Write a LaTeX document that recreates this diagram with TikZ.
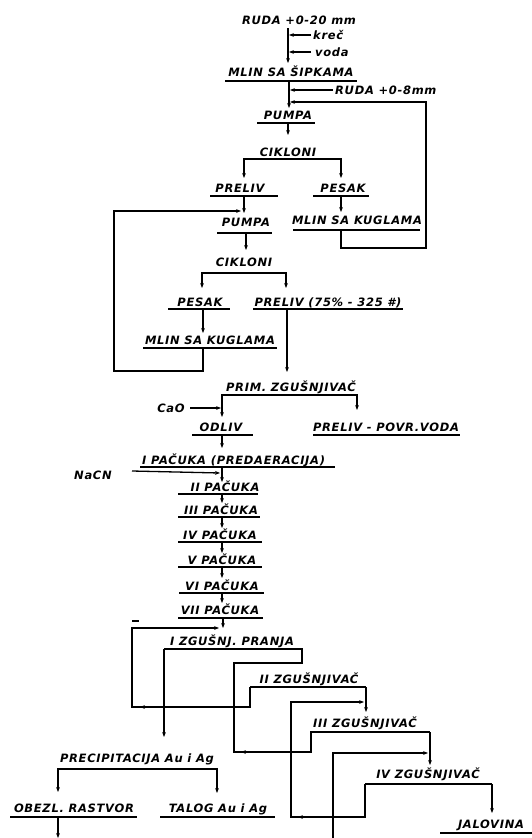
\documentclass[tikz,border=0pt]{standalone}
\usepackage{fontspec}
\setmainfont{DejaVu Sans}
\newfontfamily\labfont[LetterSpace=6]{DejaVu Sans}
\usetikzlibrary{arrows.meta}
\tikzset{
  lab/.style={anchor=base, inner sep=0pt, font=\labfont\bfseries\itshape\fontsize{11.5}{13}\selectfont},
  labw/.style={lab, anchor=base west},
  ln/.style={line width=1.3pt},
  arr/.style={ln, -{Stealth[length=5pt,width=3.8pt]}},
  dbl/.style={ln, {Stealth[length=5pt,width=3.8pt]}-{Stealth[length=5pt,width=3.8pt]}},
  ul/.style={line width=1.1pt},
}
\begin{document}
\begin{tikzpicture}[x=1pt,y=-1pt]
\useasboundingbox (0,0) rectangle (532,838);
% ---------- labels ----------
\node[lab] (ruda) at (299,24) {RUDA +0-20 mm};
\node[labw] (krec) at (313,39) {kreč};
\node[labw] (voda) at (315,56) {voda};
\node[lab] (mlinsip) at (291,76) {MLIN SA ŠIPKAMA};
\node[labw] (ruda2) at (335,94) {RUDA +0-8mm};
\node[lab] (pumpa1) at (288,119) {PUMPA};
\node[lab] (cik1) at (288,156) {CIKLONI};
\node[lab] (preliv1) at (240,192) {PRELIV};
\node[lab] (pesak1) at (343,192) {PESAK};
\node[lab] (pumpa2) at (246,226) {PUMPA};
\node[lab] (mlinkug1) at (357,224) {MLIN SA KUGLAMA};
\node[lab] (cik2) at (244,266) {CIKLONI};
\node[lab] (pesak2) at (200,306) {PESAK};
\node[lab] (preliv75) at (328,306) {PRELIV (75\% - 325 \#)};
\node[lab] (mlinkug2) at (210,344) {MLIN SA KUGLAMA};
\node[lab] (prim) at (291,391) {PRIM. ZGUŠNJIVAČ};
\node[lab] (cao) at (171,412) {CaO};
\node[lab] (odliv) at (221,431) {ODLIV};
\node[lab] (povr) at (386,431) {PRELIV - POVR.VODA};
\node[labw] (p1) at (142,464) {I PAČUKA (PREDAERACIJA)};
\node[lab] (nacn) at (93,479) {NaCN};
\node[lab] (p2) at (225,491) {II PAČUKA};
\node[lab] (p3) at (221,514) {III PAČUKA};
\node[lab] (p4) at (220,539) {IV PAČUKA};
\node[lab] (p5) at (222,564) {V PAČUKA};
\node[lab] (p6) at (222,590) {VI PAČUKA};
\node[lab] (p7) at (220,614) {VII PAČUKA};
\node[lab] (z1) at (232,645) {I ZGUŠNJ. PRANJA};
\node[lab] (z2) at (309,683) {II ZGUŠNJIVAČ};
\node[lab] (z3) at (365,727) {III ZGUŠNJIVAČ};
\node[lab] (z4) at (428,778) {IV ZGUŠNJIVAČ};
\node[lab] (jal) at (491,828) {JALOVINA};
\node[lab] (prec) at (137,762) {PRECIPITACIJA Au i Ag};
\node[lab] (obez) at (74,812) {OBEZL. RASTVOR};
\node[lab] (talog) at (218,812) {TALOG Au i Ag};
% ---------- underlines ----------
\draw[ul] (225,81) -- (357,81);
\draw[ul] (257,123) -- (315,123);
\draw[ul] (210,196) -- (278,196);
\draw[ul] (313,196) -- (369,196);
\draw[ul] (217,233) -- (272,233);
\draw[ul] (293,230) -- (420,230);
\draw[ul] (168,309) -- (230,309);
\draw[ul] (253,309) -- (403,309);
\draw[ul] (143,348) -- (277,348);
\draw[ul] (192,435) -- (253,435);
\draw[ul] (313,435) -- (460,435);
\draw[ul] (140,467) -- (335,467);
\draw[ul] (178,494) -- (258,494);
\draw[ul] (178,517) -- (260,517);
\draw[ul] (178,542) -- (262,542);
\draw[ul] (178,567) -- (262,567);
\draw[ul] (179,593) -- (264,593);
\draw[ul] (178,618) -- (263,618);
\draw[ul] (440,833) -- (532,833);
\draw[ul] (10,817) -- (137,817);
\draw[ul] (160,817) -- (275,817);
% ---------- grinding circuit ----------
\draw[arr] (288,28) -- (288,63);
\draw[arr] (311,35) -- (289,35);
\draw[arr] (311,52) -- (289,52);
\draw[arr] (289,81) -- (289,108);
\draw[arr] (333,90) -- (290,90);
\draw[arr] (341,230) -- (341,248) -- (426,248) -- (426,102) -- (290,102);
\draw[arr] (288,123) -- (288,135);
\draw[dbl] (244,178) |- (341,159) -- (341,178);
\draw[arr] (244,196) -- (244,213);
\draw[arr] (341,196) -- (341,212);
\draw[arr] (203,348) -- (203,371) -- (114,371) -- (114,211) -- (241,211);
\draw[arr] (246,233) -- (246,250);
\draw[dbl] (202,288) |- (286,273) -- (286,288);
\draw[arr] (203,309) -- (203,333);
\draw[arr] (287,309) -- (287,372);
% ---------- thickening and leaching ----------
\draw[dbl] (222,417) |- (357,395) -- (357,410);
\draw[arr] (190,408) -- (221,408);
\draw[arr] (222,435) -- (222,448);
\draw[arr] (132,471) -- (220,473);
\draw[arr] (222,467) -- (222,482);
\draw[arr] (222,494) -- (222,503);
\draw[arr] (222,517) -- (222,528);
\draw[arr] (222,542) -- (222,553);
\draw[arr] (222,567) -- (222,578);
\draw[arr] (222,593) -- (222,603);
\draw[arr] (223,618) -- (223,628);
% ---------- counter-current washing ----------
\draw[ul] (132,621) -- (139,621);
\draw[arr] (250,687) -- (250,707) -- (132,707) -- (132,628) -- (219,628);
\draw[arr] (148,707) -- (140,707);
\draw[ln] (250,687) -- (366,687);
\draw[arr] (366,687) -- (366,712);
\draw[arr] (164,649) -- (164,737);
\draw[ln] (164,649) -- (302,649) -- (302,663) -- (234,663) -- (234,752) -- (311,752) -- (311,732) -- (430,732);
\draw[arr] (248,752) -- (241,752);
\draw[arr] (430,732) -- (430,765);
\draw[arr] (365,784) -- (365,817) -- (291,817) -- (291,702) -- (364,702);
\draw[arr] (306,817) -- (298,817);
\draw[arr] (333,838) -- (333,753) -- (428,753);
\draw[ln] (365,784) -- (492,784);
\draw[arr] (492,784) -- (492,813);
% ---------- precipitation ----------
\draw[dbl] (58,792) |- (217,769) -- (217,793);
\draw[arr] (58,817) -- (58,838);
\end{tikzpicture}
\end{document}
